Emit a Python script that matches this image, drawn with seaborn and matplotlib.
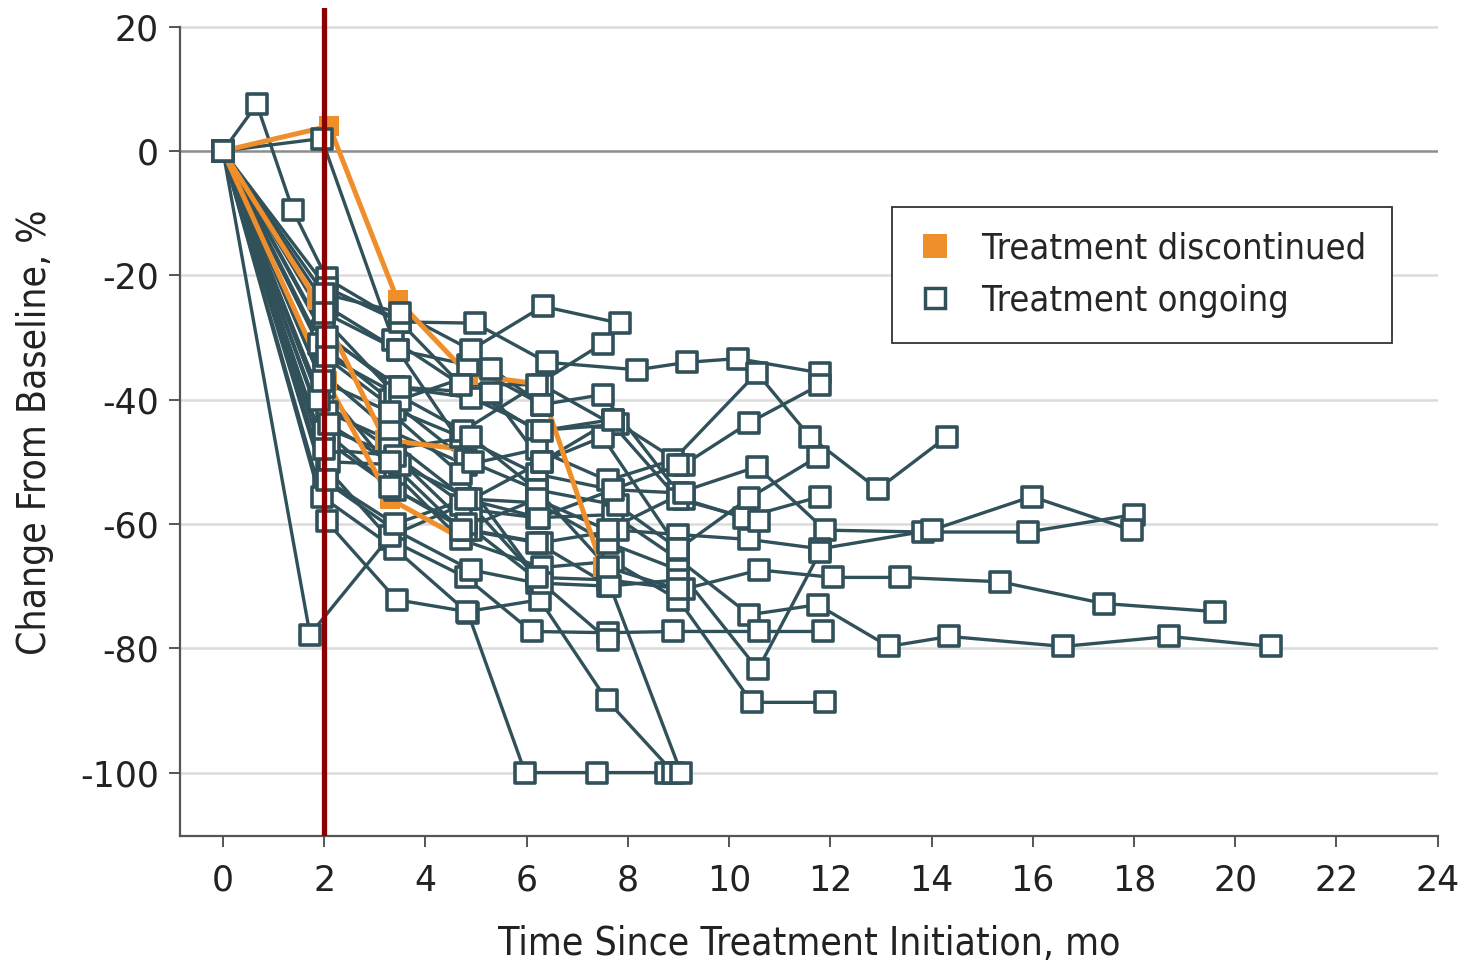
import matplotlib
matplotlib.use("Agg")
import matplotlib.pyplot as plt
import seaborn as sns
import pandas as pd
from matplotlib.lines import Line2D
from matplotlib import font_manager

# months since start and % change, one inner list per patient
discontinued_months = [
    [0, 2.1, 3.45, 4.85, 6.25, 7.5],
    [0, 1.85, 3.2, 4.75],
    [0, 2.05, 3.3, 4.75],
]
discontinued_change = [
    [0, 4, -24, -36, -37.5, -67],
    [0, -24, -46.5, -48],
    [0, -37, -56, -62.5],
]

ongoing_months = [
    [0, 0.67, 1.38, 2.05, 3.5, 4.98, 6.4, 8.18, 9.17, 10.17, 11.8],
    [0, 1.95, 3.36, 4.7, 6.2, 7.8],
    [0, 2.0, 3.4, 4.9, 6.2, 7.7, 9.0, 10.4, 11.75, 13.15, 14.35, 16.6, 18.7, 20.7],
    [0, 2.05, 3.3, 4.8, 6.2, 7.6, 9.1, 10.6, 12.05, 13.37, 15.35, 17.4, 19.6],
    [0, 2.0, 3.4, 4.7, 6.2, 7.7, 9.0, 10.55, 11.9, 13.83, 15.9, 18.0],
    [0, 2.1, 3.4, 4.9, 6.3, 7.8, 9.0, 10.4, 11.8, 14.0, 15.98, 17.96],
    [0, 2.0, 3.3, 4.8, 6.2, 7.6, 8.9, 10.55, 11.6, 12.94, 14.3],
    [0, 1.95, 3.4, 4.9, 6.3, 7.7, 9.1, 10.4, 11.8],
    [0, 2.05, 3.3, 4.8, 6.1, 7.6, 8.9, 10.6, 11.85],
    [0, 2.0, 3.4, 4.7, 6.3, 7.7, 9.0, 10.45, 11.9],
    [0, 2.1, 3.5, 4.9, 6.2, 7.6, 9.0, 10.57, 11.8],
    [0, 2.05, 3.45, 4.85, 6.3, 7.5, 9.1, 10.3, 11.8],
    [0, 1.9, 3.3, 4.8, 6.2, 7.8, 9.0, 10.4, 11.75],
    [0, 2.05, 3.5, 4.7, 6.3, 7.7, 9.0, 10.6],
    [0, 2.0, 3.4, 4.9, 6.2, 7.6, 9.0],
    [0, 1.95, 3.4, 4.84, 5.97, 7.4, 8.75],
    [0, 2.05, 3.43, 4.82, 6.26, 7.58, 8.9],
    [0, 2.0, 3.3, 4.8, 6.2, 7.65, 9.05],
    [0, 1.72, 3.3, 4.7, 6.3, 7.5, 9.0],
    [0, 2.0, 3.5, 4.9, 6.32, 7.84],
    [0, 2.05, 3.4, 4.75, 6.2, 7.5],
    [0, 2.0, 3.5, 5.3, 6.3],
    [0, 1.9, 3.3, 4.9, 6.2, 7.6, 9.0],
    [0, 2.05, 3.4, 4.8, 6.25, 7.7, 9.0],
    [0, 2.0, 3.4, 4.8, 6.3, 7.6],
    [0, 1.95, 3.3, 4.7, 6.2],
    [0, 2.05, 3.5, 5.3, 6.3, 7.7],
    [0, 2.0, 3.45, 4.95],
    [0, 2.1, 3.3, 4.7, 6.2, 7.6, 9.1],
]
ongoing_change = [
    [0, 7.5, -9.5, -20.5, -27.5, -27.7, -34, -35.2, -34, -33.4, -35.7],
    [0, 2, -30.4, -37.6, -45, -44],
    [0, -44.5, -49, -57.7, -59, -58.5, -65.7, -74.6, -73, -79.7, -78.1, -79.7, -78.1, -79.7],
    [0, -42, -46.5, -56, -68.6, -69, -70.5, -67.4, -68.6, -68.6, -69.3, -72.8, -74.1],
    [0, -33, -41.6, -46, -52, -54.5, -55, -50.8, -61, -61.3, -61.3, -58.5],
    [0, -47, -54.5, -61, -63, -61, -61.7, -62.5, -64, -61, -55.6, -61],
    [0, -36, -45, -50.5, -48, -53, -49.7, -35.7, -46, -54.4, -46],
    [0, -29, -38, -39.7, -45, -43.2, -50.5, -43.7, -37.6],
    [0, -51, -62.5, -68.6, -77.3, -77.5, -77.3, -77.3, -77.3],
    [0, -38, -52, -62.5, -67, -66, -72.2, -88.7, -88.7],
    [0, -50, -50.5, -56, -56.6, -63, -67.4, -83.4, -64.5],
    [0, -25, -32, -34.4, -40.8, -39.2, -56, -59, -55.6],
    [0, -31, -40, -49.7, -54.5, -57, -64, -55.8, -49.2],
    [0, -22, -27.5, -37.6, -37.6, -44, -56, -59.6],
    [0, -53, -61, -67.4, -69.5, -70, -69],
    [0, -55.6, -64, -74.3, -100, -100, -100],
    [0, -59.6, -72.2, -74.1, -72.2, -88.3, -100],
    [0, -45, -54, -61, -63, -70, -100],
    [0, -77.8, -62, -57, -50, -46, -64],
    [0, -23, -26, -32, -25, -27.7],
    [0, -33, -39, -45, -37.6, -31],
    [0, -27, -40, -35, -40.8],
    [0, -40, -48, -46, -54.5, -67, -70.5],
    [0, -53, -60, -56, -59, -54.5, -50.5],
    [0, -48, -49, -60, -69.5, -78.6],
    [0, -37, -42, -52, -68.6],
    [0, -30, -38, -39, -50, -43.2],
    [0, -26, -32, -50],
    [0, -44, -50, -61, -56, -61, -55],
]

legend_labels = ["Treatment discontinued", "Treatment ongoing"]

teal = "#31515a"
orange = "#ef8f2b"
darkred = "#8b0000"


def to_long(months, change, tag):
    rows = []
    for i, (m, v) in enumerate(zip(months, change)):
        for a, b in zip(m, v):
            rows.append((f"{tag}{i}", a, b))
    return pd.DataFrame(rows, columns=["patient", "month", "change"])


df_on = to_long(ongoing_months, ongoing_change, "on")
df_off = to_long(discontinued_months, discontinued_change, "off")

sns.set_style("white")
plt.rcParams["font.family"] = ["DejaVu Sans"]

# narrow face for the axis titles and legend, if there is one
fonts = font_manager.fontManager.ttflist
has_condensed = any(f.name == "DejaVu Sans" and f.stretch == "condensed" for f in fonts)
if has_condensed:
    label_font = {"family": "DejaVu Sans", "stretch": "condensed", "size": 28}
    legend_font = {"family": "DejaVu Sans", "stretch": "condensed", "size": 26}
else:
    label_font = {"family": "DejaVu Sans", "size": 25}
    legend_font = {"family": "DejaVu Sans", "size": 23}

fig, ax = plt.subplots(figsize=(14.7, 9.64), dpi=100)
fig.subplots_adjust(left=0.1224, right=0.978, bottom=0.1328, top=0.9917)

# grid lines
for y in [-100, -80, -60, -40, -20, 20]:
    ax.axhline(y, color="#dcdcdc", lw=1.8, zorder=0)
ax.axhline(0, color="#8c8c8c", lw=1.8, zorder=0.5)

# teal lines, then orange, then teal boxes on top
sns.lineplot(data=df_on, x="month", y="change", units="patient", estimator=None,
             color=teal, lw=2.4, ax=ax, legend=False, zorder=2)
sns.lineplot(data=df_off, x="month", y="change", units="patient", estimator=None,
             color=orange, lw=3.6, marker="s", markersize=14, markerfacecolor=orange,
             markeredgecolor=orange, markeredgewidth=0, ax=ax, legend=False, zorder=3)
sns.scatterplot(data=df_on, x="month", y="change", marker="s", s=205,
                facecolor="white", edgecolor=teal, linewidth=2.6, ax=ax,
                legend=False, zorder=4)

ax.axvline(2, color=darkred, lw=3.8, zorder=5)

ax.set_xlim(-0.85, 24)
ax.set_ylim(-110.2, 23)
ax.set_xticks(range(0, 25, 2))
ax.set_xticklabels([str(v) for v in range(0, 25, 2)])
ax.set_yticks(range(-100, 21, 20))
ax.set_yticklabels([str(v) for v in range(-100, 21, 20)])
ax.tick_params(axis="both", labelsize=25, length=8, width=1.4, color="#555555",
               labelcolor="#222222", direction="out", bottom=True, left=True)
ax.tick_params(axis="x", pad=12)
ax.tick_params(axis="y", pad=7)

for side in ["top", "right"]:
    ax.spines[side].set_visible(False)
for side in ["left", "bottom"]:
    ax.spines[side].set_color("#555555")
    ax.spines[side].set_linewidth(1.6)
ax.spines["left"].set_bounds(-110.2, 20)

ax.set_xlabel("Time Since Treatment Initiation, mo", fontdict=label_font, color="#222222")
ax.set_ylabel("Change From Baseline, %", fontdict=label_font, color="#222222")
ax.xaxis.set_label_coords(0.5, -0.107)
ax.yaxis.set_label_coords(-0.1, 0.487)

handles = [
    Line2D([], [], ls="none", marker="s", ms=17, mfc=orange, mec=orange, mew=0),
    Line2D([], [], ls="none", marker="s", ms=15, mfc="white", mec=teal, mew=2.5),
]
leg = ax.legend(handles, legend_labels, loc="upper left", bbox_to_anchor=(0.566, 0.76),
                borderaxespad=0, frameon=True, fancybox=False, framealpha=1,
                edgecolor="#333333", prop=legend_font, handlelength=1.0,
                handletextpad=0.8, borderpad=0.7, labelspacing=0.5)
leg.get_frame().set_linewidth(1.3)
leg.set_zorder(6)

fig.savefig("out.png", dpi=100)
